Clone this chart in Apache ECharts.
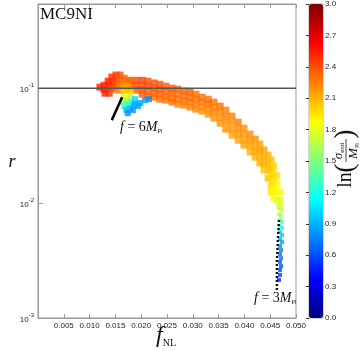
<!DOCTYPE html>
<html>
<head>
<meta charset="utf-8">
<script src="https://cdn.jsdelivr.net/npm/echarts@6/dist/echarts.min.js"></script>
<style>
  html, body { margin: 0; padding: 0; background: #fff; }
  #main { width: 364px; height: 351px; }
</style>
</head>
<body>
<div id="main"></div>
<script>
// points are [f_NL, r, ln(sigma_end / M_Pl)]
var headPts = [
  [0.0120, 0.102, 2.55], [0.0128, 0.106, 2.55], [0.0128, 0.0980, 2.5],
  [0.0136, 0.115, 2.55], [0.0136, 0.104, 2.5], [0.0143, 0.125, 2.5],
  [0.0143, 0.113, 2.5], [0.0143, 0.102, 2.45], [0.0151, 0.130, 2.45],
  [0.0151, 0.117, 2.45], [0.0151, 0.106, 2.4], [0.0151, 0.0980, 2.35],
  [0.0159, 0.130, 2.4], [0.0159, 0.117, 2.35], [0.0159, 0.106, 2.3],
  [0.0159, 0.0961, 2.2], [0.0167, 0.122, 2.35], [0.0167, 0.111, 2.25],
  [0.0167, 0.100, 2.1], [0.0174, 0.115, 2.3], [0.0174, 0.104, 2.15],
  [0.0130, 0.0905, 2.55], [0.0138, 0.0905, 2.5]
];
var fanPts = [
  [0.0167, 0.0905, 2.0], [0.0174, 0.0942, 2.05], [0.0180, 0.0961, 2.1],
  [0.0165, 0.0818, 1.75], [0.0172, 0.0852, 1.85], [0.0180, 0.0887, 1.95],
  [0.0163, 0.0756, 1.5], [0.0171, 0.0771, 1.55], [0.0178, 0.0802, 1.6],
  [0.0167, 0.0698, 1.25], [0.0174, 0.0726, 1.3], [0.0182, 0.0756, 1.2],
  [0.0171, 0.0644, 0.95], [0.0178, 0.0670, 0.95], [0.0186, 0.0712, 0.9],
  [0.0174, 0.0606, 0.8], [0.0184, 0.0644, 0.8], [0.0194, 0.0698, 0.85],
  [0.0188, 0.0802, 1.0], [0.0188, 0.0726, 0.9], [0.0198, 0.0741, 0.85],
  [0.0207, 0.0787, 0.85], [0.0215, 0.0802, 0.8]
];
var bandPts = [
  [0.0178, 0.117, 2.4], [0.0178, 0.106, 2.35],
  [0.0190, 0.117, 2.4], [0.0190, 0.106, 2.4], [0.0190, 0.0961, 2.35],
  [0.0202, 0.117, 2.45], [0.0202, 0.106, 2.4], [0.0202, 0.0961, 2.4], [0.0202, 0.0887, 2.35],
  [0.0213, 0.115, 2.4], [0.0213, 0.104, 2.4], [0.0213, 0.0942, 2.35], [0.0213, 0.0852, 2.35],
  [0.0225, 0.111, 2.4], [0.0225, 0.100, 2.35], [0.0225, 0.0905, 2.35], [0.0225, 0.0835, 2.3],
  [0.0236, 0.108, 2.4], [0.0236, 0.0980, 2.35], [0.0236, 0.0887, 2.35], [0.0236, 0.0802, 2.3],
  [0.0248, 0.104, 2.35], [0.0248, 0.0942, 2.35], [0.0248, 0.0852, 2.3], [0.0248, 0.0787, 2.3],
  [0.0260, 0.100, 2.35], [0.0260, 0.0905, 2.35], [0.0260, 0.0818, 2.3], [0.0260, 0.0756, 2.3],
  [0.0271, 0.0980, 2.35], [0.0271, 0.0887, 2.3], [0.0271, 0.0802, 2.3], [0.0271, 0.0726, 2.25],
  [0.0283, 0.0942, 2.35], [0.0283, 0.0852, 2.3], [0.0283, 0.0771, 2.3], [0.0283, 0.0712, 2.25],
  [0.0295, 0.0923, 2.35], [0.0295, 0.0835, 2.3], [0.0295, 0.0756, 2.3], [0.0295, 0.0684, 2.25],
  [0.0306, 0.0887, 2.3], [0.0306, 0.0802, 2.3], [0.0306, 0.0726, 2.25], [0.0306, 0.0657, 2.25],
  [0.0318, 0.0835, 2.3], [0.0318, 0.0756, 2.3], [0.0318, 0.0684, 2.25], [0.0318, 0.0631, 2.2],
  [0.0330, 0.0802, 2.3], [0.0330, 0.0726, 2.3], [0.0330, 0.0657, 2.25], [0.0330, 0.0594, 2.2],
  [0.0341, 0.0756, 2.3], [0.0341, 0.0684, 2.25], [0.0341, 0.0618, 2.25], [0.0341, 0.0548, 2.2],
  [0.0353, 0.0698, 2.3], [0.0353, 0.0631, 2.25], [0.0353, 0.0559, 2.2], [0.0353, 0.0496, 2.2],
  [0.0364, 0.0644, 2.25], [0.0364, 0.0571, 2.25], [0.0364, 0.0506, 2.2], [0.0364, 0.0440, 2.2],
  [0.0376, 0.0571, 2.25], [0.0376, 0.0506, 2.2], [0.0376, 0.0440, 2.2], [0.0376, 0.0390, 2.15],
  [0.0388, 0.0506, 2.25], [0.0388, 0.0449, 2.2], [0.0388, 0.0398, 2.2], [0.0388, 0.0353, 2.15],
  [0.0399, 0.0449, 2.2], [0.0399, 0.0398, 2.2], [0.0399, 0.0353, 2.15], [0.0399, 0.0319, 2.15],
  [0.0411, 0.0398, 2.2], [0.0411, 0.0353, 2.2], [0.0411, 0.0313, 2.15], [0.0411, 0.0278, 2.1],
  [0.0421, 0.0360, 2.2], [0.0421, 0.0319, 2.15], [0.0421, 0.0283, 2.15], [0.0421, 0.0251, 2.1],
  [0.0430, 0.0326, 2.15], [0.0430, 0.0289, 2.15], [0.0430, 0.0251, 2.1], [0.0430, 0.0223, 2.1],
  [0.0438, 0.0289, 2.15], [0.0438, 0.0251, 2.1], [0.0438, 0.0218, 2.1], [0.0438, 0.0194, 2.05],
  [0.0446, 0.0261, 2.1], [0.0446, 0.0227, 2.1], [0.0446, 0.0194, 2.05], [0.0446, 0.0165, 2.05],
  [0.0452, 0.0237, 2.05], [0.0452, 0.0201, 2.05], [0.0452, 0.0172, 2.0], [0.0452, 0.0143, 2.0], [0.0452, 0.0125, 1.95],
  [0.0457, 0.0210, 2.0], [0.0457, 0.0179, 2.0], [0.0457, 0.0152, 1.95], [0.0457, 0.0130, 1.9], [0.0457, 0.0111, 1.85],
  [0.0463, 0.0172, 1.95], [0.0463, 0.0146, 1.9], [0.0463, 0.0125, 1.85], [0.0463, 0.0106, 1.8],
  [0.0469, 0.0125, 1.85], [0.0469, 0.0106, 1.8], [0.0469, 0.00942, 1.75]
];
var tailPts = [
  [0.0467, 0.00905, 1.75], [0.0471, 0.00869, 1.7], [0.0467, 0.00802, 1.65],
  [0.0471, 0.00771, 1.6], [0.0469, 0.00712, 1.5], [0.0473, 0.00684, 1.4],
  [0.0469, 0.00631, 1.25], [0.0473, 0.00606, 1.15], [0.0469, 0.00559, 1.0],
  [0.0473, 0.00527, 0.95], [0.0469, 0.00486, 0.9], [0.0473, 0.00458, 0.85],
  [0.0469, 0.00423, 0.8], [0.0471, 0.00390, 0.75], [0.0469, 0.00360, 0.7],
  [0.0471, 0.00332, 0.7], [0.0469, 0.00307, 0.65], [0.0471, 0.00283, 0.6],
  [0.0469, 0.00262, 0.6], [0.0469, 0.00237, 0.55], [0.0467, 0.00214, 0.5]
];
// f = 6 M_Pl and f = 3 M_Pl curves
var f6Line = [[0.0143, 0.0527], [0.0163, 0.0835]];
var f3Line = [[0.0467, 0.00712], [0.0465, 0.00486], [0.0463, 0.00307], [0.0463, 0.00168]];
var rRef = 0.1;
var fRange = [0, 0.05];
var rRange = [0.001, 0.54];
var cbRange = [0, 3];

var jet = ['#00007f', '#0000ff', '#007fff', '#00ffff', '#7fff7f', '#ffff00', '#ff7f00', '#ff0000', '#7f0000'];
var serif = '"Liberation Serif", "DejaVu Serif", serif';

var myChart = echarts.init(document.getElementById('main'));

var option = {
  animation: false,
  grid: [
    { left: 38, top: 4, width: 258, height: 314, show: true, borderColor: '#999', borderWidth: 1 },
    { left: 309, top: 4, width: 14, height: 314, show: true, borderColor: '#555', borderWidth: 0.5 }
  ],
  xAxis: [
    {
      type: 'value', gridIndex: 0, min: fRange[0], max: fRange[1], interval: 0.005,
      axisLine: { lineStyle: { color: '#999' } },
      axisTick: { inside: true, length: 4, lineStyle: { color: '#999' } },
      axisLabel: {
        showMinLabel: false, fontSize: 8, color: '#222', margin: 4,
        formatter: function (v) { return v.toFixed(3); }
      },
      splitLine: { show: false }
    },
    {
      type: 'value', gridIndex: 0, position: 'top', min: fRange[0], max: fRange[1], interval: 0.005,
      axisLine: { lineStyle: { color: '#999' } },
      axisTick: { inside: true, length: 4, lineStyle: { color: '#999' } },
      axisLabel: { show: false },
      splitLine: { show: false }
    },
    { type: 'value', gridIndex: 1, show: false, min: 0, max: 1 }
  ],
  yAxis: [
    {
      type: 'log', logBase: 10, gridIndex: 0, min: rRange[0], max: rRange[1],
      axisLine: { show: true, lineStyle: { color: '#999' } },
      axisTick: { inside: true, length: 5, lineStyle: { color: '#999' } },
      axisLabel: {
        showMaxLabel: false, margin: 4,
        formatter: function (v) {
          var e = Math.round(Math.log10(v));
          return '{b|10}{s|' + e + '}';
        },
        rich: {
          b: { fontSize: 8, color: '#222', lineHeight: 12, verticalAlign: 'bottom' },
          s: { fontSize: 6, color: '#222', lineHeight: 8, verticalAlign: 'top' }
        }
      },
      splitLine: { show: false }
    },
    {
      type: 'value', gridIndex: 1, position: 'right', min: cbRange[0], max: cbRange[1], interval: 0.3,
      axisLine: { show: false },
      axisTick: { inside: true, length: 3, lineStyle: { color: '#333' } },
      axisLabel: {
        fontSize: 8, color: '#222', margin: 2,
        formatter: function (v) { return v.toFixed(1); }
      },
      splitLine: { show: false }
    }
  ],
  visualMap: {
    type: 'continuous',
    min: cbRange[0], max: cbRange[1],
    dimension: 2,
    seriesIndex: [0, 1, 2, 3],
    calculable: false,
    hoverLink: false,
    left: 309, top: 4, padding: 0,
    itemWidth: 14, itemHeight: 314,
    inRange: { color: jet }
  },
  series: [
    { name: 'band', type: 'scatter', data: bandPts, symbol: 'rect', symbolSize: 7 },
    { name: 'head', type: 'scatter', data: headPts, symbol: 'rect', symbolSize: 7 },
    { name: 'fan', type: 'scatter', data: fanPts, symbol: 'rect', symbolSize: 6 },
    { name: 'tail', type: 'scatter', data: tailPts, symbol: 'rect', symbolSize: 4 },
    {
      name: 'f6', type: 'line', data: f6Line, symbol: 'none',
      lineStyle: { color: '#000', width: 2.5 }, z: 4
    },
    {
      name: 'f3', type: 'line', data: f3Line, symbol: 'none',
      lineStyle: { color: '#111', width: 2.5, type: [2, 2] }, z: 4
    },
    {
      name: 'ref', type: 'line', data: [[fRange[0], rRef], [fRange[1], rRef]], symbol: 'none',
      lineStyle: { color: '#555', width: 1.5 }, z: 5
    }
  ],
  graphic: [
    { type: 'text', left: 40, top: 6, style: { text: 'MC9NI', font: '17px ' + serif, fill: '#111' } },
    {
      type: 'text', x: 12, y: 162,
      style: { text: 'r', font: 'italic 18px ' + serif, fill: '#111', textAlign: 'center', textVerticalAlign: 'middle' }
    },
    {
      type: 'text', x: 156, y: 336,
      style: {
        text: '{i|f}{s|NL}', textAlign: 'left', textVerticalAlign: 'middle',
        rich: {
          i: { fontSize: 24, fontStyle: 'italic', fontFamily: serif, fill: '#111', verticalAlign: 'middle' },
          s: { fontSize: 10, fontFamily: serif, fill: '#111', verticalAlign: 'bottom' }
        }
      }
    },
    {
      type: 'text', x: 120, y: 127,
      style: {
        text: '{i|f}{n| = 6}{i|M}{s|Pl}', textAlign: 'left', textVerticalAlign: 'middle',
        rich: {
          i: { fontSize: 14, fontStyle: 'italic', fontFamily: serif, fill: '#111' },
          n: { fontSize: 14, fontFamily: serif, fill: '#111' },
          s: { fontSize: 6, fontFamily: serif, fill: '#111', verticalAlign: 'bottom' }
        }
      }
    },
    {
      type: 'text', x: 254, y: 298,
      style: {
        text: '{i|f}{n| = 3}{i|M}{s|Pl}', textAlign: 'left', textVerticalAlign: 'middle',
        rich: {
          i: { fontSize: 14, fontStyle: 'italic', fontFamily: serif, fill: '#111' },
          n: { fontSize: 14, fontFamily: serif, fill: '#111' },
          s: { fontSize: 6, fontFamily: serif, fill: '#111', verticalAlign: 'bottom' }
        }
      }
    },
    {
      // colorbar title ln(sigma_end / M_Pl), rotated
      type: 'group', x: 346, y: 158, rotation: Math.PI / 2,
      children: [
        { type: 'text', x: -22, y: 0, style: { text: 'ln', font: '20px ' + serif, fill: '#111', textAlign: 'center', textVerticalAlign: 'middle' } },
        { type: 'text', x: -10, y: 0, style: { text: '(', font: '28px ' + serif, fill: '#111', textAlign: 'center', textVerticalAlign: 'middle' } },
        {
          type: 'text', x: 7, y: -7,
          style: {
            text: '{i|σ}{s|end}', textAlign: 'center', textVerticalAlign: 'middle',
            rich: {
              i: { fontSize: 13, fontStyle: 'italic', fontFamily: serif, fill: '#111' },
              s: { fontSize: 7, fontFamily: serif, fill: '#111', verticalAlign: 'bottom' }
            }
          }
        },
        { type: 'line', shape: { x1: -4, y1: 0, x2: 19, y2: 0 }, style: { stroke: '#111', lineWidth: 0.8 } },
        {
          type: 'text', x: 7, y: 8,
          style: {
            text: '{i|M}{s|Pl}', textAlign: 'center', textVerticalAlign: 'middle',
            rich: {
              i: { fontSize: 13, fontStyle: 'italic', fontFamily: serif, fill: '#111' },
              s: { fontSize: 6, fontFamily: serif, fill: '#111', verticalAlign: 'bottom' }
            }
          }
        },
        { type: 'text', x: 24, y: 0, style: { text: ')', font: '28px ' + serif, fill: '#111', textAlign: 'center', textVerticalAlign: 'middle' } }
      ]
    }
  ]
};

myChart.setOption(option);
</script>
</body>
</html>
